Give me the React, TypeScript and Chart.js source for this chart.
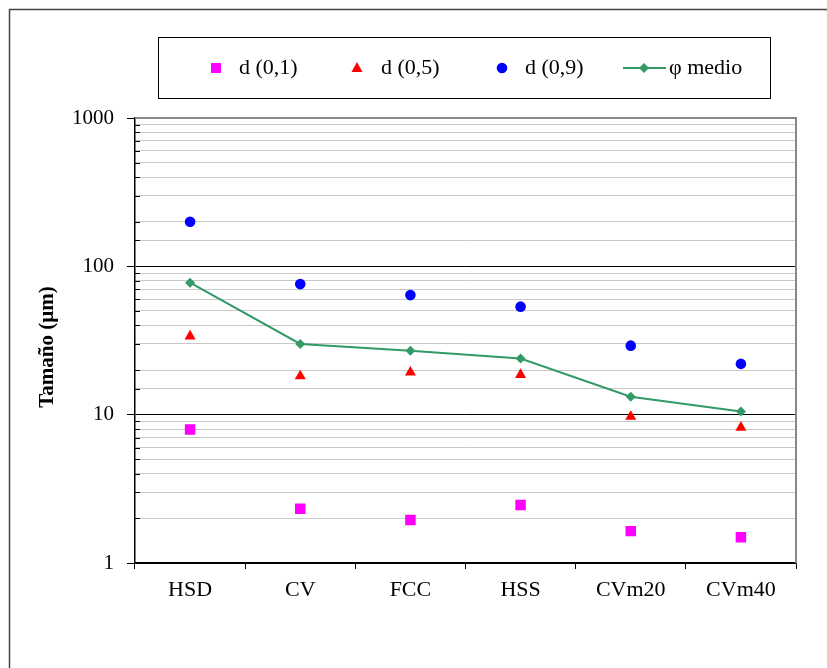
import React, { useEffect, useRef } from "react";
import { Chart, registerables } from "chart.js";

Chart.register(...registerables);

const categories = ["HSD", "CV", "FCC", "HSS", "CVm20", "CVm40"];
const d01 = [7.95, 2.32, 1.95, 2.46, 1.64, 1.49];
const d05 = [33.8, 18.2, 19.3, 18.6, 9.7, 8.2];
const d09 = [200, 75.9, 64, 53.5, 29.2, 22];
const phiMedio = [77.6, 30.0, 27.0, 23.9, 13.2, 10.5];
const yTickLabels = [1, 10, 100, 1000];
const legendLabels = ["d (0,1)", "d (0,5)", "d (0,9)", "φ medio"];
const yTitle = "Tamaño (µm)";

const PINK = "#FF00FF";
const RED = "#FF0000";
const BLUE = "#0000FF";
const GREEN = "#339966";
const FONT = "'Liberation Serif', 'Times New Roman', serif";

const isMajor = (v: number) => yTickLabels.includes(v);

const decorPlugin = {
  id: "decor",
  afterDraw(chart: any) {
    const ctx = chart.ctx as CanvasRenderingContext2D;
    const area = chart.chartArea;
    const yScale = chart.scales.y;
    ctx.save();
    // outer frame
    ctx.strokeStyle = "#444";
    ctx.lineWidth = 1.5;
    ctx.beginPath();
    ctx.moveTo(9.5, 700);
    ctx.lineTo(9.5, 9.5);
    ctx.lineTo(900, 9.5);
    ctx.stroke();

    // top and right plot border
    ctx.strokeStyle = "#888";
    ctx.lineWidth = 2;
    ctx.beginPath();
    ctx.moveTo(area.left, area.top);
    ctx.lineTo(area.right, area.top);
    ctx.lineTo(area.right, area.bottom);
    ctx.stroke();

    // minor inside ticks
    ctx.strokeStyle = "#000";
    ctx.lineWidth = 1;
    yScale.ticks.forEach((t: any) => {
      if (isMajor(t.value)) return;
      const py = Math.round(yScale.getPixelForValue(t.value)) + 0.5;
      ctx.beginPath();
      ctx.moveTo(area.left, py);
      ctx.lineTo(area.left + 5, py);
      ctx.stroke();
    });

    // y title
    ctx.fillStyle = "#000";
    ctx.font = `bold 21px ${FONT}`;
    ctx.textAlign = "center";
    ctx.textBaseline = "middle";
    ctx.translate(48, 347);
    ctx.rotate(-Math.PI / 2);
    ctx.fillText(yTitle, 0, 0);
    ctx.setTransform(1, 0, 0, 1, 0, 0);

    // legend box
    ctx.strokeStyle = "#000";
    ctx.lineWidth = 1;
    ctx.strokeRect(158.5, 37.5, 612, 61);
    const cy = 68;
    ctx.font = `22px ${FONT}`;
    ctx.textAlign = "left";
    ctx.textBaseline = "middle";
    // square
    ctx.fillStyle = PINK;
    ctx.fillRect(211, cy - 5, 10, 10);
    ctx.fillStyle = "#000";
    ctx.fillText(legendLabels[0], 239, cy);
    // triangle
    ctx.fillStyle = RED;
    ctx.beginPath();
    ctx.moveTo(357, cy - 6);
    ctx.lineTo(357 + 5.5, cy + 4);
    ctx.lineTo(357 - 5.5, cy + 4);
    ctx.closePath();
    ctx.fill();
    ctx.fillStyle = "#000";
    ctx.fillText(legendLabels[1], 381, cy);
    // circle
    ctx.fillStyle = BLUE;
    ctx.beginPath();
    ctx.arc(502, cy, 5.3, 0, Math.PI * 2);
    ctx.fill();
    ctx.fillStyle = "#000";
    ctx.fillText(legendLabels[2], 525, cy);
    // line + diamond
    ctx.strokeStyle = GREEN;
    ctx.lineWidth = 2;
    ctx.beginPath();
    ctx.moveTo(623, cy);
    ctx.lineTo(666, cy);
    ctx.stroke();
    ctx.fillStyle = GREEN;
    ctx.beginPath();
    ctx.moveTo(644, cy - 5);
    ctx.lineTo(649, cy);
    ctx.lineTo(644, cy + 5);
    ctx.lineTo(639, cy);
    ctx.closePath();
    ctx.fill();
    ctx.fillStyle = "#000";
    ctx.fillText(legendLabels[3], 669, cy);
    ctx.restore();
  },
};

export default function App() {
  const ref = useRef<HTMLCanvasElement>(null);
  useEffect(() => {
    if (!ref.current) return;
    const chart = new Chart(ref.current, {
      type: "line",
      data: {
        labels: categories,
        datasets: [
          {
            label: legendLabels[0],
            data: d01,
            showLine: false,
            pointStyle: "rect",
            pointRadius: 7.4,
            backgroundColor: PINK,
            borderColor: PINK,
            borderWidth: 0,
          },
          {
            label: legendLabels[1],
            data: d05,
            showLine: false,
            pointStyle: "triangle",
            pointRadius: 6.4,
            backgroundColor: RED,
            borderColor: RED,
            borderWidth: 0,
          },
          {
            label: legendLabels[2],
            data: d09,
            showLine: false,
            pointStyle: "circle",
            pointRadius: 5.3,
            backgroundColor: BLUE,
            borderColor: BLUE,
            borderWidth: 0,
          },
          {
            label: legendLabels[3],
            data: phiMedio,
            borderColor: GREEN,
            backgroundColor: GREEN,
            borderWidth: 2,
            pointStyle: "rectRot",
            pointRadius: 5,
            pointBorderWidth: 0,
            tension: 0,
          },
        ],
      },
      options: {
        responsive: false,
        animation: false,
        events: [],
        layout: { padding: { left: 0, right: 31, top: 118, bottom: 0 } },
        plugins: {
          legend: { display: false },
          tooltip: { enabled: false },
          title: { display: false },
        },
        scales: {
          x: {
            type: "category",
            offset: true,
            grid: {
              offset: true,
              drawOnChartArea: false,
              drawTicks: true,
              tickLength: 6,
              color: "#000",
              tickColor: "#000",
            },
            border: { color: "#000", width: 1.5 },
            ticks: {
              color: "#000",
              font: { family: FONT, size: 22 },
              padding: 8,
              maxRotation: 0,
              autoSkip: false,
            },
            afterFit: (scale: any) => {
              scale.height = 105;
            },
          },
          y: {
            type: "logarithmic",
            min: 1,
            max: 1000,
            grid: {
              color: (c: any) => (c.tick && isMajor(c.tick.value) ? "#000" : "#c8c8c8"),
              tickColor: (c: any) => (c.tick && isMajor(c.tick.value) ? "#000" : "rgba(0,0,0,0)"),
              lineWidth: 1,
              tickLength: 8,
            },
            border: { color: "#000", width: 1.5 },
            ticks: {
              color: "#000",
              font: { family: FONT, size: 21 },
              padding: 13,
              autoSkip: false,
              callback: (v: any) => (isMajor(Number(v)) ? String(v) : ""),
            },
            afterFit: (scale: any) => {
              scale.width = 135;
            },
          },
        },
      },
      plugins: [decorPlugin],
    });
    return () => chart.destroy();
  }, []);
  return (
    <div style={{ position: "absolute", left: 0, top: 0, width: 827, height: 668, background: "#fff" }}>
      <canvas ref={ref} width={827} height={668} style={{ width: 827, height: 668, display: "block" }} />
    </div>
  );
}
